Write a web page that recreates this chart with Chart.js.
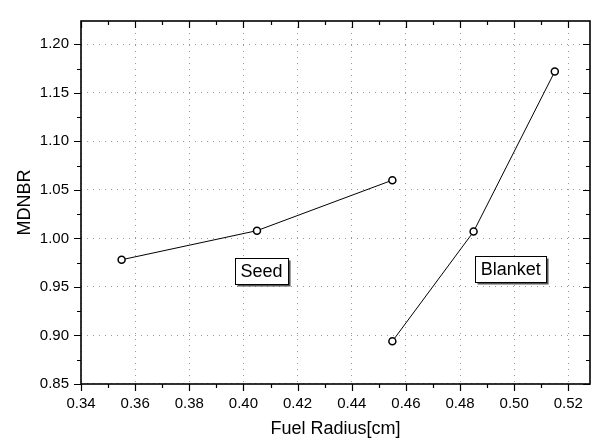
<!DOCTYPE html>
<html>
<head>
<meta charset="utf-8">
<script src="https://cdn.jsdelivr.net/npm/chart.js@4/dist/chart.umd.min.js"></script>
<style>
  html, body { margin: 0; padding: 0; background: #fff; }
  #wrap { width: 595px; height: 442px; }
</style>
</head>
<body>
<div id="wrap"><canvas id="myChart" width="595" height="442"></canvas></div>
<script>
// datos
const seedRadius = [0.355, 0.405, 0.455];
const seedMdnbr = [0.978, 1.008, 1.060];
const blanketRadius = [0.455, 0.485, 0.515];
const blanketMdnbr = [0.894, 1.007, 1.172];
const seriesNames = ['Seed', 'Blanket'];

const xMin = 0.34, xMax = 0.528, xStep = 0.02;
const yMin = 0.85, yMax = 1.224, yStep = 0.05;

const fuente = 'Arial, "Liberation Sans", sans-serif';

function puntos(xs, ys) {
    return xs.map((x, i) => ({ x: x, y: ys[i] }));
}

// marco y marcas de los ejes (como en Origin)
const marco = {
    id: 'marco',
    afterDraw(chart) {
        const { ctx, chartArea: a, scales: { x, y } } = chart;
        ctx.save();
        ctx.strokeStyle = '#000';
        ctx.lineWidth = 1.2;
        ctx.beginPath();
        for (let i = 0; i <= 18; i++) {
            const px = Math.round(x.getPixelForValue(0.34 + i * 0.01)) + 0.5;
            const len = i % 2 === 0 ? 7 : 4;
            ctx.moveTo(px, a.bottom); ctx.lineTo(px, a.bottom + len);
            ctx.moveTo(px, a.top); ctx.lineTo(px, a.top + len);
        }
        for (let i = 0; i <= 14; i++) {
            const py = Math.round(y.getPixelForValue(0.85 + i * 0.025)) + 0.5;
            const len = i % 2 === 0 ? 7 : 4;
            ctx.moveTo(a.left, py); ctx.lineTo(a.left - len, py);
            ctx.moveTo(a.right, py); ctx.lineTo(a.right - len, py);
        }
        ctx.stroke();
        ctx.lineWidth = 1.6;
        ctx.strokeRect(a.left, a.top, a.right - a.left, a.bottom - a.top);
        ctx.restore();
    }
};

// etiquetas con recuadro
const etiquetas = {
    id: 'etiquetas',
    afterDatasetsDraw(chart, args, opts) {
        const { ctx, scales: { x, y } } = chart;
        ctx.save();
        ctx.font = '18px ' + fuente;
        ctx.textAlign = 'center';
        ctx.textBaseline = 'middle';
        opts.items.forEach(function (it) {
            const cx = x.getPixelForValue(it.x);
            const cy = y.getPixelForValue(it.y);
            const w = ctx.measureText(it.text).width + 11;
            const h = 26;
            const l = Math.round(cx - w / 2) + 0.5, t = Math.round(cy - h / 2) + 0.5;
            ctx.fillStyle = '#555';
            ctx.fillRect(l + 2, t + 2, w, h);
            ctx.fillStyle = '#fff';
            ctx.fillRect(l, t, w, h);
            ctx.strokeStyle = '#000';
            ctx.lineWidth = 1;
            ctx.strokeRect(l, t, w, h);
            ctx.fillStyle = '#000';
            ctx.fillText(it.text, cx, cy + 1);
        });
        ctx.restore();
    }
};

const estiloSerie = {
    showLine: true,
    borderColor: '#000',
    borderWidth: 1,
    pointRadius: 3.5,
    pointHoverRadius: 3.5,
    pointBorderWidth: 1.5,
    pointBackgroundColor: '#fff',
    pointBorderColor: '#000',
    tension: 0
};

const ctx = document.getElementById('myChart').getContext('2d');
const myChart = new Chart(ctx, {
    type: 'scatter',
    data: {
        datasets: [
            Object.assign({ label: seriesNames[0], data: puntos(seedRadius, seedMdnbr) }, estiloSerie),
            Object.assign({ label: seriesNames[1], data: puntos(blanketRadius, blanketMdnbr) }, estiloSerie)
        ]
    },
    options: {
        responsive: false,
        animation: false,
        layout: { padding: { top: 10, right: 2, left: 0, bottom: 0 } },
        plugins: {
            legend: { display: false },
            tooltip: { enabled: false },
            etiquetas: {
                items: [
                    { text: seriesNames[0], x: 0.4067, y: 0.966 },
                    { text: seriesNames[1], x: 0.4987, y: 0.968 }
                ]
            }
        },
        scales: {
            x: {
                type: 'linear',
                min: xMin,
                max: xMax,
                afterFit(s) { s.height = 58; },
                ticks: {
                    stepSize: xStep,
                    includeBounds: false,
                    color: '#000',
                    font: { family: fuente, size: 15 },
                    padding: 11,
                    maxRotation: 0,
                    callback: v => v.toFixed(2)
                },
                grid: { color: '#9a9a9a', lineWidth: 1, drawTicks: false },
                border: { display: false, dash: [1, 5] },
                title: {
                    display: true,
                    text: 'Fuel Radius[cm]',
                    color: '#000',
                    font: { family: fuente, size: 18 },
                    padding: { top: 0, bottom: 2 }
                }
            },
            y: {
                type: 'linear',
                min: yMin,
                max: yMax,
                afterFit(s) { s.width = 81; },
                ticks: {
                    stepSize: yStep,
                    includeBounds: false,
                    color: '#000',
                    font: { family: fuente, size: 15 },
                    padding: 12,
                    callback: v => v.toFixed(2)
                },
                grid: { color: '#9a9a9a', lineWidth: 1, drawTicks: false },
                border: { display: false, dash: [1, 5] },
                title: {
                    display: true,
                    text: 'MDNBR',
                    color: '#000',
                    font: { family: fuente, size: 18 },
                    padding: { top: 14, bottom: 0 }
                }
            }
        }
    },
    plugins: [marco, etiquetas]
});
</script>
</body>
</html>
